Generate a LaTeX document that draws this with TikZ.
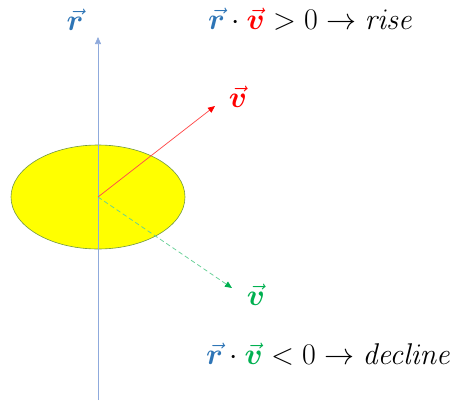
\RequirePackage{fix-cm}
\documentclass[tikz,border=0pt]{standalone}
\usepackage{amsmath,bm}
\usetikzlibrary{arrows.meta}
\definecolor{rblue}{RGB}{46,117,182}
\definecolor{axisblue}{RGB}{143,170,220}
\definecolor{vred}{RGB}{255,0,0}
\definecolor{vgreen}{RGB}{0,176,80}
\definecolor{discedge}{RGB}{112,150,70}
\tikzset{every picture/.style={line width=0.75pt}}
\tikzset{
  lbl/.style={inner sep=0.75pt, font=\fontsize{30}{35}\selectfont},
  vecarrow/.style={-{Triangle[length=7pt,width=6pt]}}
}
\newcommand{\vr}{\textcolor{rblue}{\vec{\bm r}}}
\begin{document}
\begin{tikzpicture}[x=1pt,y=1pt,yscale=-1,xscale=1]
			\useasboundingbox (0,0) rectangle (458,402);
			
			%Ellipse [id:disc] 
			\draw [color=discedge, fill={rgb, 255:red, 255; green, 255; blue, 0 }, line width=0.6pt] (98,197) ellipse (87 and 52);
			%Named points
			\coordinate (O) at (98,197);
			\coordinate (axbot) at (98,400);
			\coordinate (axtop) at (98,37);
			\coordinate (vup) at (215,106);
			\coordinate (vdown) at (232,288);
			
			%Straight Lines [id:axis] 
			\draw [color=axisblue, vecarrow]  (axbot) -- (axtop) ;
			%Straight Lines [id:vred] 
			\draw [color=vred!70, -{Triangle[length=7pt,width=6pt,fill=vred,color=vred]}]  (O) -- (vup) ;
			%Straight Lines [id:vgreen] 
			\draw [color=vgreen!60, dash pattern={on 4.5pt off 3pt}, -{Triangle[length=7pt,width=6pt,fill=vgreen,color=vgreen]}]  (O) -- (vdown) ;
			
			% Text Node
			\node (rlab) [lbl] at (75,20) {$\vr$};
			% Text Node
			\node (vlabup) [lbl] at (238,97) {$\textcolor{vred}{\vec{\bm v}}$};
			% Text Node
			\node (vlabdown) [lbl] at (256,295) {$\textcolor{vgreen}{\vec{\bm v}}$};
			% Text Node
			\node (rise) [lbl, anchor=west] at (207,19) {$\vr\cdot\textcolor{vred}{\vec{\bm v}}>0\rightarrow \mathit{rise}$};
			% Text Node
			\node (decline) [lbl, anchor=west] at (205,354) {$\vr\cdot\textcolor{vgreen}{\vec{\bm v}}<0\rightarrow \mathit{decline}$};
\end{tikzpicture}
\end{document}
